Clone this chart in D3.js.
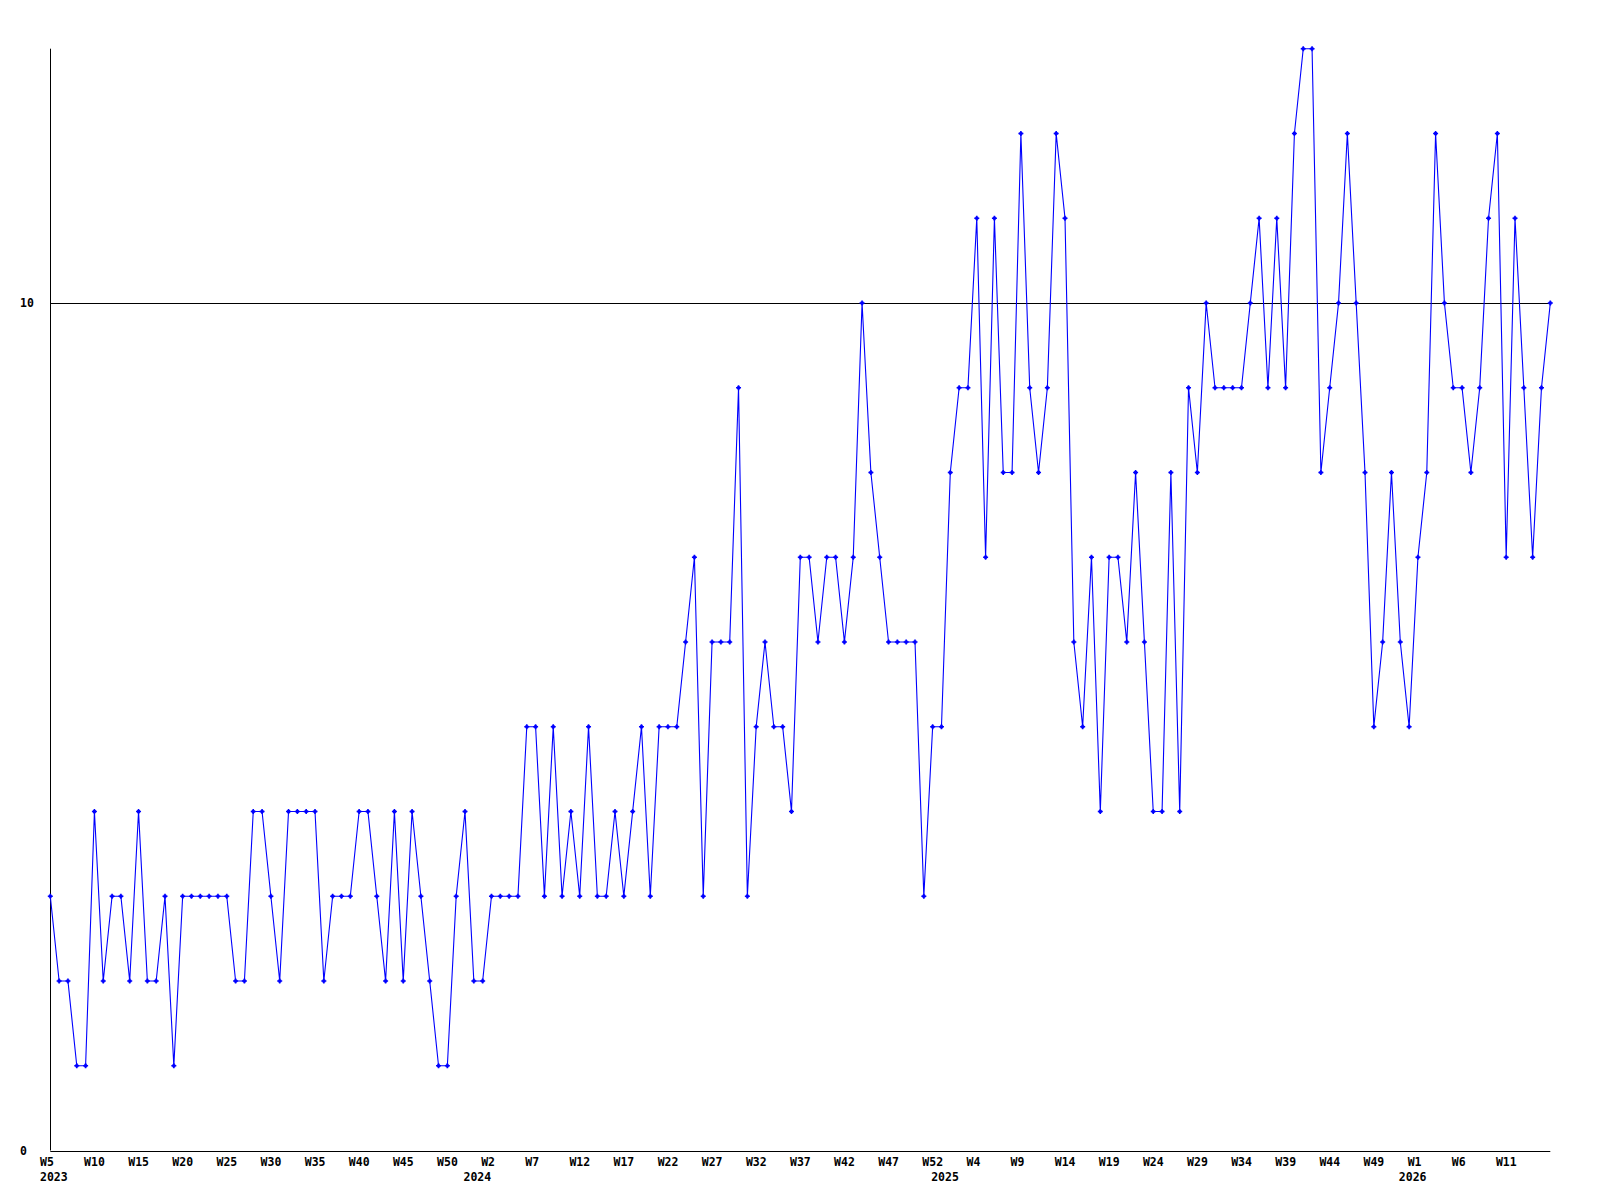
<!DOCTYPE html>
<html>
<head>
<meta charset="utf-8">
<script src="https://cdn.jsdelivr.net/npm/d3@7/dist/d3.min.js"></script>
<style>
  html, body { margin: 0; padding: 0; background: #ffffff; }
  svg { display: block; }
  text { font-family: "DejaVu Sans Mono", monospace; font-weight: bold; font-size: 11.5px; fill: #000; }
</style>
</head>
<body>
<svg id="chart" width="1600" height="1200"></svg>
<script>
// ---- data ----
const years = [2023, 2024, 2025, 2026];
const yearFirstWeek = [5, 0, 0, 0];
const yearLastWeek = [52, 52, 52, 16];

const values = [
  3,2,2,1,1,4,2,3,3,2,4,2,2,3,1,3,3,3,3,3,3,2,2,4,4,3,2,4,4,
  4,4,2,3,3,3,4,4,3,2,4,2,4,3,2,1,1,3,4,2,2,3,3,3,3,5,5,3,5,3,
  4,3,5,3,3,4,3,4,5,3,5,5,5,6,7,3,6,6,6,9,3,5,6,5,5,4,7,
  7,6,7,7,6,7,10,8,7,6,6,6,6,3,5,5,8,9,9,11,7,11,8,8,12,9,8,9,12,
  11,6,5,7,4,7,7,6,8,6,4,4,8,4,9,8,10,9,9,9,9,10,11,9,11,9,12,
  13,13,8,9,10,12,10,8,5,6,8,6,5,7,8,12,10,9,9,8,9,11,12,7,11,9,7,9,10
];

const tickLabels = [
  "W5","W10","W15","W20","W25","W30","W35","W40","W45","W50",
  "W2","W7","W12","W17","W22","W27","W32","W37","W42","W47","W52",
  "W4","W9","W14","W19","W24","W29","W34","W39","W44","W49",
  "W1","W6","W11"
];
const tickEvery = 5;
const yTickValues = [0, 10];
const yMax = 13;

// categories: one per week
const categories = [];
years.forEach((yr, i) => {
  for (let w = yearFirstWeek[i]; w <= yearLastWeek[i]; w++) {
    categories.push({ key: yr + "-W" + w, year: yr, week: w });
  }
});
const data = categories.map((c, i) => ({ key: c.key, year: c.year, value: values[i] }));

// ---- layout ----
const svg = d3.select("#chart");
const plotLeft = 50.3, plotRight = 1550.3, plotTop = 48.7, plotBottom = 1150.5;

const x = d3.scalePoint().domain(categories.map(c => c.key)).range([plotLeft, plotRight]);
const y = d3.scaleLinear().domain([0, yMax]).range([plotBottom, plotTop]);

svg.append("rect").attr("width", 1600).attr("height", 1200).attr("fill", "#ffffff");

// reference line at 10
svg.append("g").selectAll("line").data(yTickValues.filter(v => v > 0)).join("line")
  .attr("x1", plotLeft).attr("x2", plotRight)
  .attr("y1", d => Math.round(y(d)) + 0.5).attr("y2", d => Math.round(y(d)) + 0.5)
  .attr("stroke", "#000").attr("stroke-width", 1);

// axes lines
svg.append("line").attr("x1", Math.round(plotLeft) + 0.5).attr("x2", Math.round(plotLeft) + 0.5)
  .attr("y1", plotTop).attr("y2", plotBottom).attr("stroke", "#000").attr("stroke-width", 1);
svg.append("line").attr("x1", plotLeft).attr("x2", plotRight)
  .attr("y1", Math.round(plotBottom) + 0.5).attr("y2", Math.round(plotBottom) + 0.5)
  .attr("stroke", "#000").attr("stroke-width", 1);

// y labels
svg.append("g").selectAll("text").data(yTickValues).join("text")
  .attr("x", 20).attr("y", d => y(d) + 4)
  .attr("text-anchor", "start")
  .text(d => d);

// x week labels
svg.append("g").selectAll("text").data(tickLabels).join("text")
  .attr("x", (d, i) => x(categories[i * tickEvery].key) - 10.3)
  .attr("y", 1165.5)
  .attr("text-anchor", "start")
  .text(d => d);

// year labels at first week of each year
svg.append("g").selectAll("text").data(years).join("text")
  .attr("x", yr => x(categories.find(c => c.year === yr).key) - 10.3)
  .attr("y", 1180.5)
  .attr("text-anchor", "start")
  .text(yr => String(yr));

// line
const line = d3.line().x(d => x(d.key)).y(d => y(d.value));
svg.append("path").datum(data)
  .attr("d", line)
  .attr("fill", "none")
  .attr("stroke", "#0000ff")
  .attr("stroke-width", 1.1);

// markers (small plus)
svg.append("g").selectAll("path").data(data).join("path")
  .attr("transform", d => `translate(${x(d.key)},${y(d.value)})`)
  .attr("d", "M-2.5,-0.8H2.5V0.8H-2.5Z M-0.8,-2.5H0.8V2.5H-0.8Z M-1.5,-1.5H1.5V1.5H-1.5Z")
  .attr("fill", "#0000ff");
</script>
</body>
</html>
